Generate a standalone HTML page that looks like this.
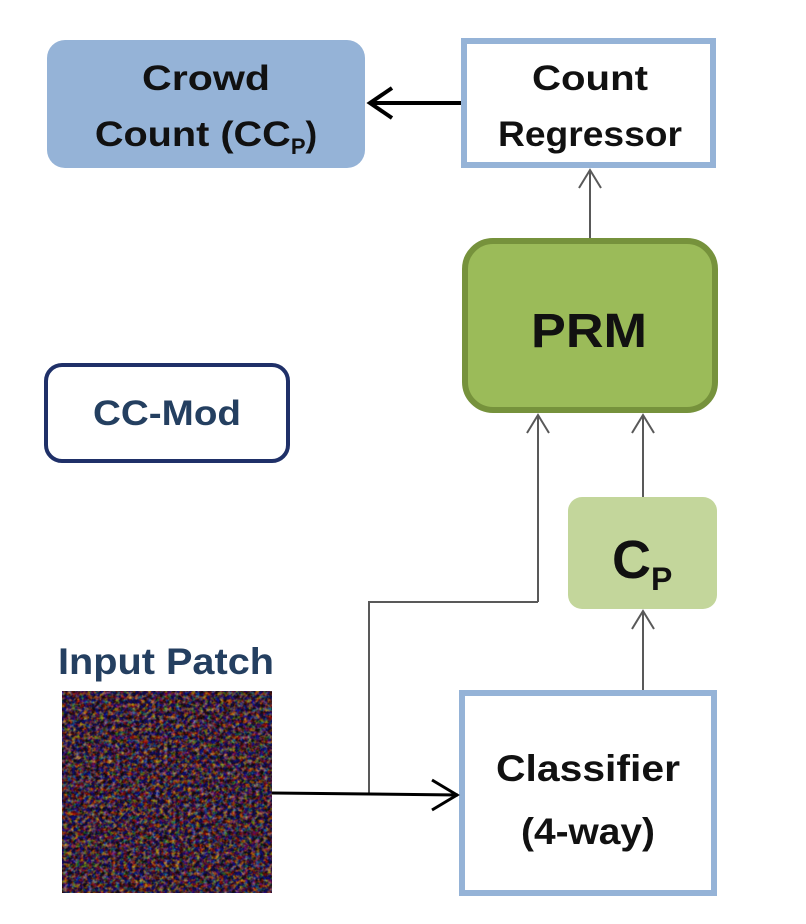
<!DOCTYPE html>
<html><head><meta charset="utf-8"><style>
html,body{margin:0;padding:0;background:#fff;width:806px;height:924px;overflow:hidden}
text{font-family:"Liberation Sans",sans-serif;font-weight:bold}
</style></head><body>
<svg width="806" height="924" viewBox="0 0 806 924" xmlns="http://www.w3.org/2000/svg">
<defs>
<filter id="crowd" x="0" y="0" width="100%" height="100%" color-interpolation-filters="sRGB">
<feTurbulence type="fractalNoise" baseFrequency="0.25" numOctaves="3" seed="11" result="n"/>
<feColorMatrix in="n" type="matrix" values="1.8 0.6 -0.6 0 -0.6  0.4 1.6 -0.4 0 -0.65  -0.3 0.6 1.5 0 -0.62  0 0 0 0 1"/>
</filter>
</defs>
<rect x="47" y="40" width="318" height="128" rx="18" fill="#95b3d7"/>
<text x="206" y="90" font-size="35" text-anchor="middle" fill="#111" textLength="128" lengthAdjust="spacingAndGlyphs">Crowd</text>
<text x="206" y="146" font-size="35" text-anchor="middle" fill="#111"><tspan textLength="196" lengthAdjust="spacingAndGlyphs">Count (CC</tspan><tspan font-size="22" dy="8">P</tspan><tspan dy="-8">)</tspan></text>
<rect x="464" y="41" width="249" height="124" fill="#fff" stroke="#95b3d7" stroke-width="6"/>
<text x="590" y="90" font-size="35" text-anchor="middle" fill="#111" textLength="116" lengthAdjust="spacingAndGlyphs">Count</text>
<text x="590" y="146" font-size="35" text-anchor="middle" fill="#111" textLength="184" lengthAdjust="spacingAndGlyphs">Regressor</text>
<line x1="461" y1="103" x2="372" y2="103" stroke="#000" stroke-width="4"/>
<polyline points="392,88 370,103 392,118" fill="none" stroke="#000" stroke-width="4"/>
<line x1="590" y1="240" x2="590" y2="170" stroke="#595959" stroke-width="2"/>
<polyline points="579,188 590,170 601,188" fill="none" stroke="#595959" stroke-width="2"/>
<rect x="465" y="241" width="250" height="169" rx="28" fill="#9bbb59" stroke="#76923c" stroke-width="6"/>
<text x="589" y="347" font-size="48" text-anchor="middle" fill="#111" textLength="116" lengthAdjust="spacingAndGlyphs">PRM</text>
<rect x="46" y="365" width="242" height="96" rx="16" fill="#fff" stroke="#1f3068" stroke-width="4"/>
<text x="167" y="425" font-size="35" text-anchor="middle" fill="#243f60" textLength="148" lengthAdjust="spacingAndGlyphs">CC-Mod</text>
<line x1="538" y1="602" x2="538" y2="415" stroke="#595959" stroke-width="2"/>
<polyline points="527,433 538,415 549,433" fill="none" stroke="#595959" stroke-width="2"/>
<line x1="643" y1="497" x2="643" y2="415" stroke="#595959" stroke-width="2"/>
<polyline points="632,433 643,415 654,433" fill="none" stroke="#595959" stroke-width="2"/>
<rect x="568" y="497" width="149" height="112" rx="14" fill="#c3d69b"/>
<text x="612" y="578" font-size="54" fill="#111">C<tspan font-size="32" dy="12">P</tspan></text>
<line x1="643" y1="690" x2="643" y2="611" stroke="#595959" stroke-width="2"/>
<polyline points="632,629 643,611 654,629" fill="none" stroke="#595959" stroke-width="2"/>
<rect x="462" y="693" width="252" height="200" fill="#fff" stroke="#95b3d7" stroke-width="6"/>
<text x="588" y="781" font-size="37" text-anchor="middle" fill="#111" textLength="184" lengthAdjust="spacingAndGlyphs">Classifier</text>
<text x="588" y="844" font-size="37" text-anchor="middle" fill="#111" textLength="134" lengthAdjust="spacingAndGlyphs">(4-way)</text>
<polyline points="369,794 369,602 538,602" fill="none" stroke="#595959" stroke-width="2"/>
<line x1="272" y1="793" x2="458" y2="795" stroke="#000" stroke-width="3"/>
<polyline points="432,780 457,795 432,810" fill="none" stroke="#000" stroke-width="3"/>
<text x="58" y="674" font-size="37" fill="#243f60" textLength="216" lengthAdjust="spacingAndGlyphs">Input Patch</text>
<rect x="62" y="691" width="210" height="202" fill="#4a3c38"/>
<rect x="62" y="691" width="210" height="202" filter="url(#crowd)"/>
<rect x="62" y="691" width="210" height="202" fill="#2a2220" opacity="0.35"/>
</svg>
</body></html>
